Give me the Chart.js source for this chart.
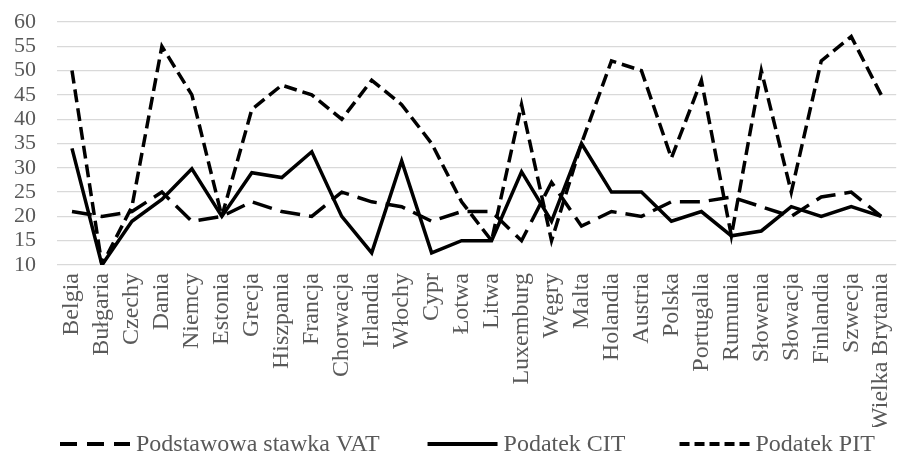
<!DOCTYPE html>
<html><head><meta charset="utf-8">
<script src="https://cdn.jsdelivr.net/npm/chart.js@4.4.1/dist/chart.umd.min.js"></script>
<style>html,body{margin:0;padding:0;overflow:hidden;background:#fff}#wrap{width:918px;height:457px}</style>
</head><body><div id="wrap"><canvas id="c" width="918" height="457"></canvas></div>
<script>
const categories = ['Belgia','Bułgaria','Czechy','Dania','Niemcy','Estonia','Grecja','Hiszpania','Francja','Chorwacja','Irlandia','Włochy','Cypr','Łotwa','Litwa','Luxemburg','Węgry','Malta','Holandia','Austria','Polska','Portugalia','Rumunia','Słowenia','Słowacja','Finlandia','Szwecja','Wielka Brytania'];
const vatValues = [21,20,21,25,19,20,23,21,20,25,23,22,19,21,21,15,27,18,21,20,23,23,24,22,20,24,25,20];
const citValues = [34,10,19,23.5,29.8,20,29,28,33.3,20,12.5,31.4,12.5,15,15,29.2,19,35,25,25,19,21,16,17,22,20,22,20];
const pitValues = [50,10,22,55,45,20,42,47,45,40,48,43,35,23,15,43,15,35,52,50,32,48,16,50,25,52,57,45];
const seriesNames = ['Podstawowa stawka VAT','Podatek CIT','Podatek PIT'];
const yMin = 10, yMax = 60, yStep = 5;

const SERIF = '"Liberation Serif", "Times New Roman", serif';
const GREY = '#595959';

const legendPlugin = {
  id: 'bottomLegend',
  afterDraw(chart) {
    const ctx = chart.ctx;
    ctx.save();
    ctx.font = '24px ' + SERIF;
    const sample = 70, gapText = 6;
    const gaps = [48, 54];
    let x = 60;
    const y = 444;
    chart.data.datasets.forEach((ds, i) => {
      ctx.strokeStyle = ds.borderColor;
      ctx.lineWidth = 4;
      ctx.setLineDash(ds.legendDash || []);
      ctx.beginPath(); ctx.moveTo(x, y); ctx.lineTo(x + sample, y); ctx.stroke();
      x += sample + gapText;
      ctx.setLineDash([]);
      ctx.fillStyle = GREY;
      ctx.textBaseline = 'middle';
      ctx.textAlign = 'left';
      ctx.fillText(ds.label, x, y + 1);
      x += ctx.measureText(ds.label).width + (gaps[i] || 0);
    });
    ctx.restore();
  }
};

new Chart(document.getElementById('c'), {
  type: 'line',
  data: {
    labels: categories,
    datasets: [
      { label: seriesNames[0], data: vatValues, borderColor: '#000', borderWidth: 3.5, borderDash: [20, 9], legendDash: [17, 10], pointRadius: 0, tension: 0, fill: false },
      { label: seriesNames[1], data: citValues, borderColor: '#000', borderWidth: 3.5, legendDash: [], pointRadius: 0, tension: 0, fill: false },
      { label: seriesNames[2], data: pitValues, borderColor: '#000', borderWidth: 3.5, borderDash: [13, 6], legendDash: [10, 5], pointRadius: 0, tension: 0, fill: false }
    ]
  },
  options: {
    responsive: false,
    animation: false,
    devicePixelRatio: 1,
    layout: { padding: { top: 22, right: 0, bottom: 30, left: 0 } },
    plugins: { legend: { display: false }, tooltip: { enabled: false } },
    scales: {
      x: {
        offset: true,
        grid: { display: false, drawTicks: false },
        border: { display: false },
        ticks: { autoSkip: false, maxRotation: 90, minRotation: 90, padding: 8, color: GREY, font: { family: SERIF, size: 24 } },
        afterFit(scale) { scale.height = 162; }
      },
      y: {
        min: yMin, max: yMax,
        grid: { color: '#d9d9d9', lineWidth: 1.3, drawTicks: true, tickLength: 21, tickColor: 'rgba(0,0,0,0)' },
        border: { display: false },
        ticks: { stepSize: yStep, autoSkip: false, padding: 0, color: GREY, font: { family: SERIF, size: 22, lineHeight: 1 } },
        afterFit(scale) { scale.width = 57; }
      }
    }
  },
  plugins: [legendPlugin]
});
</script>
</body></html>
